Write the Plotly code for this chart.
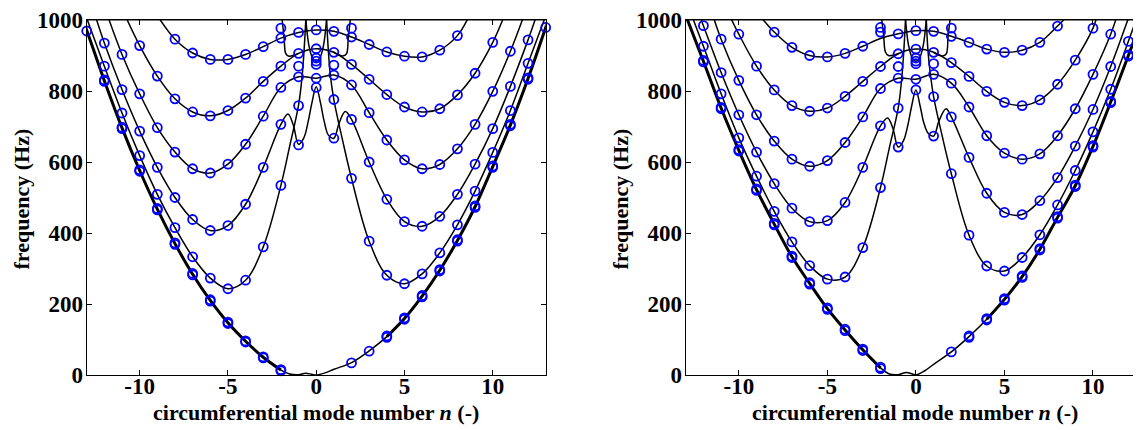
import plotly.graph_objects as go

# ---------------- tick labels ----------------
x_ticks = [-10, -5, 0, 5, 10]
x_ticktext = ["-10", "-5", "0", "5", "10"]
y_ticks = [0, 200, 400, 600, 800, 1000]
y_ticktext = ["0", "200", "400", "600", "800", "1000"]

# ---------------- LEFT panel: circles (n, frequency Hz) ----------------
L_m1_n = [-13, -12, -11, -10, -9, -8, -7, -6, -5, -4, -3, -2, 2, 3, 4, 5, 6, 7, 8, 9, 10, 11, 12, 13]
L_m1_f = [969, 827, 694, 574, 465, 368, 282, 208, 145, 93, 48, 12, 34, 67, 106, 157, 220, 293, 377, 472, 585, 702, 833, 979]
L_m1b_n = [-12, -11, -10, -9, -8, -7, -6, -5, -4, -3, -2, 4, 5, 6, 7, 8, 9, 10, 11, 12]
L_m1b_f = [831, 698, 578, 469, 372, 286, 212, 149, 96, 51, 15, 110, 161, 224, 297, 381, 476, 589, 706, 837]
L_m2_n = [-12, -11, -10, -9, -8, -7, -6, -5, -4, -3, -2, -1, 1, 2, 3, 4, 5, 6, 7, 8, 9, 10, 11, 12]
L_m2_f = [870, 738, 618, 509, 415, 333, 273, 243, 267, 361, 534, 759, 776, 554, 377, 281, 257, 285, 344, 423, 518, 627, 745, 878]
L_m3_n = [-12, -11, -10, -9, -8, -7, -6, -5, -4, -3, -2, -1, 0, 1, 2, 3, 4, 5, 6, 7, 8, 9, 10, 11, 12]
L_m3_f = [935, 804, 687, 585, 500, 438, 407, 421, 481, 585, 706, 648, 810, 667, 720, 600, 495, 432, 419, 447, 509, 594, 694, 813, 944]
L_m4_n = [-11, -10, -9, -8, -7, -6, -5, -4, -3, -2, -1, 0, 1, 2, 3, 4, 5, 6, 7, 8, 9, 10, 11]
L_m4_f = [903, 792, 697, 628, 581, 569, 594, 650, 729, 810, 840, 836, 845, 817, 739, 662, 606, 581, 593, 637, 706, 799, 912]
L_m5_n = [-10, -9, -8, -7, -6, -5, -4, -3, -2, -1, 0, 1, 2, 3, 4, 5, 6, 7, 8, 9, 10]
L_m5_f = [928, 842, 778, 741, 730, 745, 780, 827, 870, 906, 919, 909, 875, 833, 790, 755, 741, 750, 789, 850, 937]
L_m6_n = [-8, -7, -6, -5, -4, -3, -2, -1, 0, 1, 2, 3, 4, 5, 6, 7, 8]
L_m6_f = [946, 907, 889, 889, 903, 925, 949, 965, 972, 968, 952, 931, 910, 898, 896, 915, 956]
L_ex_n = [-2, -1, 0, 0, 0, 1, 2]
L_ex_f = [977, 870, 875, 884, 893, 873, 977]

# ---------------- LEFT panel: curve points (n, frequency Hz) ----------------
LC_m1_n = [-13.22, -13, -12, -11, -10, -9, -8, -7, -6, -5, -4, -3, -2, -1.5, -1.0, -0.6, -0.25, 0,
           0.5, 1, 2, 3, 4, 5, 6, 7, 8, 9, 10, 11, 12, 13, 13.2]
LC_m1_f = [1000, 971, 829, 696, 576, 467, 370, 284, 210, 147, 95, 50, 14, 3, 1, 5, 2, 0,
           6, 16, 35, 68, 108, 159, 222, 295, 379, 474, 587, 704, 835, 979, 1008]
LC_m2a_n = [-13.0, -12, -11, -10, -9, -8, -7, -6, -5, -4, -3, -2, -1.5, -1, -0.8, -0.68, -0.58]
LC_m2a_f = [1005, 870, 738, 618, 509, 415, 333, 273, 243, 267, 361, 534, 645, 760, 840, 920, 1010]
LC_m2b_n = [0.58, 0.68, 0.8, 1, 1.5, 2, 3, 4, 5, 6, 7, 8, 9, 10, 11, 12, 12.95]
LC_m2b_f = [1010, 920, 845, 776, 660, 554, 377, 281, 257, 285, 344, 423, 518, 627, 745, 878, 1005]
LC_m3_n = [-12.5, -12, -11, -10, -9, -8, -7, -6, -5, -4, -3, -2, -1.6, -1.3, -1.0, -0.7, -0.45, -0.25, 0,
           0.25, 0.45, 0.7, 1.0, 1.3, 1.65, 2, 3, 4, 5, 6, 7, 8, 9, 10, 11, 12, 12.45]
LC_m3_f = [1010, 935, 804, 687, 585, 500, 438, 407, 421, 481, 585, 706, 735, 705, 650, 668, 715, 765, 812,
           765, 715, 675, 667, 710, 742, 720, 600, 495, 432, 419, 447, 509, 594, 694, 813, 944, 1008]
LC_m4_n = [-11.8, -11, -10, -9, -8, -7, -6, -5, -4, -3, -2, -1, 0, 1, 2, 3, 4, 5, 6, 7, 8, 9, 10, 11, 11.75]
LC_m4_f = [1010, 903, 792, 697, 628, 581, 569, 594, 650, 729, 810, 840, 836, 845, 817, 739, 662, 606, 581, 593, 637, 706, 799, 912, 1010]
LC_m5_n = [-10.75, -10, -9, -8, -7, -6, -5, -4, -3, -2, -1, 0, 1, 2, 3, 4, 5, 6, 7, 8, 9, 10, 10.6]
LC_m5_f = [1005, 928, 842, 778, 741, 730, 745, 780, 827, 870, 906, 919, 909, 875, 833, 790, 755, 741, 750, 789, 850, 937, 1005]
LC_m6_n = [-8.9, -8, -7, -6, -5, -4, -3, -2, -1, 0, 1, 2, 3, 4, 5, 6, 7, 8, 8.6]
LC_m6_f = [1005, 946, 907, 889, 889, 903, 925, 949, 965, 972, 968, 952, 931, 910, 898, 896, 915, 956, 1005]
LC_v_n = [-0.6, -0.42, -0.22, 0, 0.22, 0.42, 0.6]
LC_v_f = [1010, 930, 895, 884, 895, 930, 1010]
LC_k1_n = [-1.95, -1.82, -1.72, -1.55, -1.2, -1.0]
LC_k1_f = [1010, 950, 905, 898, 902, 906]
LC_k2_n = [1.0, 1.2, 1.55, 1.72, 1.82, 1.95]
LC_k2_f = [909, 903, 899, 905, 950, 1010]

# ---------------- RIGHT panel: circles ----------------
R_m1_n = [-12, -11, -10, -9, -8, -7, -6, -5, -4, -3, -2, 2, 3, 4, 5, 6, 7, 8, 9, 10, 11, 12]
R_m1_f = [882, 750, 631, 520, 423, 331, 256, 185, 125, 69, 18, 65, 106, 155, 211, 275, 352, 442, 531, 642, 767, 898]
R_m1b_n = [-12, -11, -10, -9, -8, -7, -6, -5, -4, -3, -2, 3, 4, 5, 6, 7, 8, 9, 10, 11, 12]
R_m1b_f = [886, 754, 635, 524, 427, 335, 260, 189, 129, 73, 22, 110, 159, 215, 279, 356, 446, 535, 646, 771, 902]
R_m2_n = [-12, -11, -10, -9, -8, -7, -6, -5, -4, -3, -2, -1, 1, 2, 3, 4, 5, 6, 7, 8, 9, 10, 11, 12]
R_m2_f = [926, 792, 668, 560, 461, 375, 308, 270, 276, 359, 528, 752, 784, 567, 394, 307, 293, 331, 395, 479, 576, 685, 805, 940]
R_m3_n = [-12, -11, -10, -9, -8, -7, -6, -5, -4, -3, -2, -1, 0, 1, 2, 3, 4, 5, 6, 7, 8, 9, 10, 11]
R_m3_f = [984, 852, 733, 628, 539, 470, 432, 435, 486, 585, 702, 642, 803, 673, 727, 613, 512, 458, 452, 491, 556, 645, 748, 869]
R_m4_n = [-11, -10, -9, -8, -7, -6, -5, -4, -3, -2, -1, 0, 1, 2, 3, 4, 5, 6, 7, 8, 9, 10, 11]
R_m4_f = [946, 830, 733, 659, 608, 588, 604, 655, 727, 807, 836, 833, 847, 822, 755, 674, 625, 608, 623, 674, 750, 847, 960]
R_m5_n = [-10, -9, -8, -7, -6, -5, -4, -3, -2, -1, 0, 1, 2, 3, 4, 5, 6, 7, 8, 9, 10]
R_m5_f = [960, 870, 803, 759, 743, 752, 785, 827, 869, 905, 918, 909, 880, 841, 799, 768, 759, 775, 819, 887, 977]
R_m6_n = [-8, -7, -6, -5, -4, -3, -2, -1, 0, 1, 2, 3, 4, 5, 6, 7, 8]
R_m6_f = [966, 923, 900, 896, 906, 926, 966, 961, 970, 968, 954, 937, 918, 909, 915, 937, 983]
R_ex_n = [-2, -1, 0, 0, 0, 1, 2]
R_ex_f = [979, 869, 877, 884, 893, 877, 977]

# ---------------- RIGHT panel: curve points ----------------
RC_m1_n = [-12.92, -12, -11, -10, -9, -8, -7, -6, -5, -4, -3, -2, -1.5, -1.0, -0.55, -0.2, 0,
           0.5, 1, 2, 3, 4, 5, 6, 7, 8, 9, 10, 11, 12, 12.8]
RC_m1_f = [1003, 884, 752, 633, 522, 425, 333, 258, 187, 127, 71, 20, 3, 1, 7, 3, 0,
           12, 30, 65, 108, 157, 213, 277, 354, 444, 533, 644, 769, 900, 1005]
RC_m2a_n = [-12.6, -12, -11, -10, -9, -8, -7, -6, -5, -4, -3, -2, -1.5, -1, -0.8, -0.68, -0.58]
RC_m2a_f = [1005, 926, 792, 668, 560, 461, 375, 308, 270, 276, 359, 528, 640, 752, 835, 915, 1010]
RC_m2b_n = [0.58, 0.68, 0.8, 1, 1.5, 2, 3, 4, 5, 6, 7, 8, 9, 10, 11, 12, 12.5]
RC_m2b_f = [1010, 915, 855, 784, 670, 567, 394, 307, 293, 331, 395, 479, 576, 685, 805, 940, 1010]
RC_m3_n = [-12.12, -12, -11, -10, -9, -8, -7, -6, -5, -4, -3, -2, -1.6, -1.3, -1.0, -0.7, -0.45, -0.25, 0,
           0.25, 0.45, 0.7, 1.0, 1.3, 1.7, 2, 3, 4, 5, 6, 7, 8, 9, 10, 11, 12.0]
RC_m3_f = [1000, 984, 852, 733, 628, 539, 470, 432, 435, 486, 585, 702, 724, 695, 642, 660, 705, 755, 803,
           755, 710, 680, 673, 715, 750, 727, 613, 512, 458, 452, 491, 556, 645, 748, 869, 1005]
RC_m4_n = [-11.45, -11, -10, -9, -8, -7, -6, -5, -4, -3, -2, -1, 0, 1, 2, 3, 4, 5, 6, 7, 8, 9, 10, 11, 11.35]
RC_m4_f = [1010, 946, 830, 733, 659, 608, 588, 604, 655, 727, 807, 836, 833, 847, 822, 755, 674, 625, 608, 623, 674, 750, 847, 960, 1010]
RC_m5_n = [-10.45, -10, -9, -8, -7, -6, -5, -4, -3, -2, -1, 0, 1, 2, 3, 4, 5, 6, 7, 8, 9, 10, 10.25]
RC_m5_f = [1005, 960, 870, 803, 759, 743, 752, 785, 827, 869, 905, 918, 909, 880, 841, 799, 768, 759, 775, 819, 887, 977, 1015]
RC_m6_n = [-8.7, -8, -7, -6, -5, -4, -3, -2, -1, 0, 1, 2, 3, 4, 5, 6, 7, 8, 8.4]
RC_m6_f = [1005, 966, 923, 900, 896, 906, 926, 948, 961, 970, 968, 954, 937, 918, 909, 915, 937, 983, 1003]
RC_v_n = [-0.6, -0.42, -0.22, 0, 0.22, 0.42, 0.6]
RC_v_f = [1010, 930, 895, 884, 895, 930, 1010]
RC_k1_n = [-1.95, -1.82, -1.72, -1.55, -1.2, -1.0]
RC_k1_f = [1010, 955, 910, 900, 902, 905]
RC_k2_n = [1.0, 1.2, 1.55, 1.72, 1.82, 1.95]
RC_k2_f = [909, 903, 899, 905, 955, 1010]

FONT = "Liberation Serif"
BLUE = "#0000ff"

# The page body adds an 8 px margin, so the figure is drawn 8 px smaller and
# every layout position below is expressed relative to that offset.
OFF = 8
W, H = 1141 - OFF, 430 - OFF
PLOT_TOP, PLOT_BOTTOM = 15 - OFF, 375 - OFF
PLOT_H = PLOT_BOTTOM - PLOT_TOP

fig = go.Figure()


def add_line(n, f, xa, ya, width=1.5):
    fig.add_trace(go.Scatter(x=n, y=f, mode="lines", xaxis=xa, yaxis=ya,
                             line=dict(color="black", width=width, shape="spline", smoothing=1.0),
                             hoverinfo="skip", showlegend=False))


def add_marks(n, f, xa, ya):
    fig.add_trace(go.Scatter(x=n, y=f, mode="markers", xaxis=xa, yaxis=ya, cliponaxis=False,
                             marker=dict(symbol="circle-open", size=9, color=BLUE, line=dict(width=1.8, color=BLUE)),
                             hoverinfo="skip", showlegend=False))


def n_index(arr, lo, hi):
    return [i for i, v in enumerate(arr) if lo <= v <= hi]


for xa, ya, curves, thick, marks in [
    ("x", "y",
     [(LC_m1_n, LC_m1_f), (LC_m2a_n, LC_m2a_f), (LC_m2b_n, LC_m2b_f), (LC_m3_n, LC_m3_f),
      (LC_m4_n, LC_m4_f), (LC_m5_n, LC_m5_f), (LC_m6_n, LC_m6_f), (LC_v_n, LC_v_f),
      (LC_k1_n, LC_k1_f), (LC_k2_n, LC_k2_f)],
     (LC_m1_n, LC_m1_f),
     [(L_m1_n, L_m1_f), (L_m1b_n, L_m1b_f), (L_m2_n, L_m2_f), (L_m3_n, L_m3_f), (L_m4_n, L_m4_f),
      (L_m5_n, L_m5_f), (L_m6_n, L_m6_f), (L_ex_n, L_ex_f)]),
    ("x2", "y2",
     [(RC_m1_n, RC_m1_f), (RC_m2a_n, RC_m2a_f), (RC_m2b_n, RC_m2b_f), (RC_m3_n, RC_m3_f),
      (RC_m4_n, RC_m4_f), (RC_m5_n, RC_m5_f), (RC_m6_n, RC_m6_f), (RC_v_n, RC_v_f),
      (RC_k1_n, RC_k1_f), (RC_k2_n, RC_k2_f)],
     (RC_m1_n, RC_m1_f),
     [(R_m1_n, R_m1_f), (R_m1b_n, R_m1b_f), (R_m2_n, R_m2_f), (R_m3_n, R_m3_f), (R_m4_n, R_m4_f),
      (R_m5_n, R_m5_f), (R_m6_n, R_m6_f), (R_ex_n, R_ex_f)]),
]:
    for n, f in curves:
        add_line(n, f, xa, ya)
    tn, tf = thick
    idx = n_index(tn, -20, -2)
    add_line([tn[i] for i in idx], [tf[i] for i in idx], xa, ya, width=3)
    idx = n_index(tn, 3.5, 20)
    add_line([tn[i] for i in idx], [tf[i] for i in idx], xa, ya, width=3)
    for n, f in marks:
        add_marks(n, f, xa, ya)

tickfont = dict(family=FONT, size=23, color="black", weight="bold")
common_x = dict(tickvals=x_ticks, ticktext=x_ticktext, ticks="inside", ticklen=5, tickcolor="black",
                showline=True, linecolor="black", linewidth=1, showgrid=False, zeroline=False,
                tickfont=tickfont, ticklabelstandoff=-10, ticklabeloverflow="allow")
common_y = dict(tickvals=y_ticks, ticktext=y_ticktext, ticks="inside", ticklen=5, tickcolor="black",
                showline=True, linecolor="black", linewidth=1, showgrid=False, zeroline=False,
                tickfont=tickfont, range=[0, 1000], domain=[0, 1], ticklabelstandoff=-2,
                ticklabeloverflow="allow")

fig.update_layout(
    width=W, height=H, autosize=False,
    margin=dict(l=0, r=0, t=PLOT_TOP, b=H - PLOT_BOTTOM, pad=0),
    paper_bgcolor="white", plot_bgcolor="white",
    showlegend=False,
    xaxis=dict(domain=[(86.7 - OFF) / W, (545.7 - OFF) / W], range=[-13, 13], anchor="y", mirror="ticks", **common_x),
    yaxis=dict(anchor="x", mirror="ticks", **common_y),
    xaxis2=dict(domain=[(685.7 - OFF) / W, 1.0], range=[-13, (1141 - 916) / 17.7], anchor="y2", mirror="ticks", **common_x),
    yaxis2=dict(anchor="x2", mirror=False, **common_y),
)

# top frame lines of both panels
for xr, yr in [("x domain", "y domain"), ("x2 domain", "y2 domain")]:
    fig.add_shape(type="line", xref=xr, yref=yr, x0=0, x1=1, y0=1, y1=1,
                  line=dict(color="black", width=1), layer="above")

title_font = dict(family=FONT, size=22, color="black")
xtitle = "<b>circumferential mode number <i>n</i> (-)</b>"
ytitle = "<b>frequency (Hz)</b>"
x_title_y = -(413 - 375) / PLOT_H
y_title_y = (375 - 197) / PLOT_H
fig.add_annotation(text=xtitle, xref="paper", yref="paper", x=(316 - OFF) / W, y=x_title_y,
                   xanchor="center", yanchor="middle", showarrow=False, font=title_font)
fig.add_annotation(text=xtitle, xref="paper", yref="paper", x=(915 - OFF) / W, y=x_title_y,
                   xanchor="center", yanchor="middle", showarrow=False, font=title_font)
fig.add_annotation(text=ytitle, xref="paper", yref="paper", x=(21 - OFF) / W, y=y_title_y,
                   xanchor="center", yanchor="middle", textangle=-90, showarrow=False, font=title_font)
fig.add_annotation(text=ytitle, xref="paper", yref="paper", x=(620 - OFF) / W, y=y_title_y,
                   xanchor="center", yanchor="middle", textangle=-90, showarrow=False, font=title_font)

fig.write_html("out.html")
